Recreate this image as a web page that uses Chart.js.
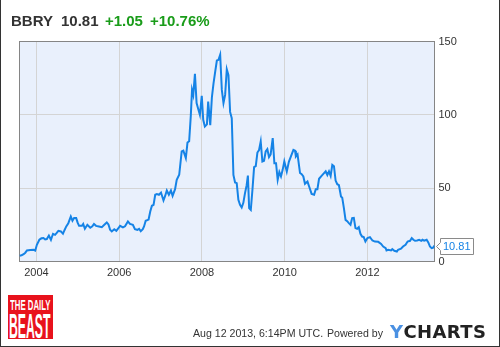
<!DOCTYPE html>
<html>
<head>
<meta charset="utf-8">
<script src="https://cdn.jsdelivr.net/npm/chart.js@4.4.0/dist/chart.umd.min.js"></script>
<style>
  html, body { margin: 0; padding: 0; background: #fff; }
  #wrap { position: relative; width: 500px; height: 347px; overflow: hidden; font-family: 'Liberation Sans', Arial, sans-serif; }
  #frame { position: absolute; left: 0; top: 0; width: 498px; height: 346px; border: 1px solid #333; border-top: none; pointer-events: none; }
  canvas { position: absolute; left: 0; top: 0; }
  .t { position: absolute; white-space: nowrap; line-height: 1; }
  .head { font-size: 15px; font-weight: bold; top: 13px; color: #333; }
  .up { color: #1a9c1a; }
  .foot { font-size: 10.6px; color: #333; top: 328px; }
  #logo { position: absolute; left: 8px; top: 295px; width: 45px; height: 44px; background: #e8121c; overflow: hidden; }
  #logo span { position: absolute; color: #fff; font-weight: bold; white-space: nowrap; line-height: 1; transform-origin: 0 0; }
  #yc { position: absolute; left: 390px; top: 323px; font-family: 'DejaVu Sans', sans-serif; font-weight: bold; font-size: 18px; letter-spacing: 0.4px; color: #222; line-height: 1; }
  #yc b { color: #4a90e2; }
</style>
</head>
<body>
<div id="wrap">
  <canvas id="myChart" width="500" height="347"></canvas>
  <span class="t head" style="left:11px">BBRY</span>
  <span class="t head" style="left:61px">10.81</span>
  <span class="t head up" style="left:105px">+1.05</span>
  <span class="t head up" style="left:150px">+10.76%</span>
  <div id="logo">
    <span style="left:2px; top:2px; font-size:15px; transform:scaleX(0.52)">THE DAILY</span>
    <span style="left:1px; top:13px; font-size:35px; transform:scaleX(0.35)">BEAST</span>
  </div>
  <span class="t foot" style="left:193px">Aug 12 2013, 6:14PM UTC.</span>
  <span class="t foot" style="left:327px">Powered by</span>
  <span id="yc"><b>Y</b>CHARTS</span>
  <div id="frame"></div>
</div>
<script>
var tickYears = [2004, 2006, 2008, 2010, 2012];
var yTicks = [0, 50, 100, 150];
var lastPrice = 10.81;

// decimal years
var dates = [2003.59, 2003.64, 2003.69, 2003.73, 2003.77, 2003.85, 2003.93, 2003.97, 2004.01, 2004.07,
  2004.12, 2004.17, 2004.21, 2004.25, 2004.30, 2004.35, 2004.40, 2004.45, 2004.49, 2004.53,
  2004.59, 2004.64, 2004.68, 2004.72, 2004.77, 2004.83, 2004.87, 2004.91, 2004.96, 2004.995,
  2005.03, 2005.10, 2005.13, 2005.17, 2005.23, 2005.30, 2005.35, 2005.39, 2005.44, 2005.51,
  2005.58, 2005.64, 2005.70, 2005.74, 2005.78, 2005.82, 2005.88, 2005.93, 2005.98, 2006.02,
  2006.09, 2006.14, 2006.21, 2006.26, 2006.33, 2006.38, 2006.44, 2006.48, 2006.52, 2006.57,
  2006.60, 2006.64, 2006.71, 2006.75, 2006.79, 2006.83, 2006.87, 2006.91, 2006.96, 2007.01,
  2007.07, 2007.11, 2007.15, 2007.20, 2007.25, 2007.29, 2007.35, 2007.39, 2007.45, 2007.51,
  2007.55, 2007.61, 2007.65, 2007.69, 2007.73, 2007.76, 2007.79, 2007.83, 2007.87, 2007.91,
  2007.95, 2007.995, 2008.03, 2008.07, 2008.12, 2008.15, 2008.20, 2008.24, 2008.28, 2008.32,
  2008.36, 2008.40, 2008.44, 2008.48, 2008.52, 2008.56, 2008.60, 2008.64, 2008.68, 2008.72,
  2008.76, 2008.80, 2008.84, 2008.88, 2008.92, 2008.96, 2009.00, 2009.04, 2009.08, 2009.11,
  2009.14, 2009.18, 2009.22, 2009.26, 2009.30, 2009.34, 2009.38, 2009.42, 2009.46, 2009.50,
  2009.54, 2009.58, 2009.62, 2009.66, 2009.71, 2009.75, 2009.79, 2009.83, 2009.87, 2009.91,
  2009.95, 2009.99, 2010.05, 2010.10, 2010.15, 2010.21, 2010.25, 2010.27, 2010.31, 2010.37,
  2010.41, 2010.45, 2010.49, 2010.55, 2010.59, 2010.65, 2010.71, 2010.75, 2010.79, 2010.83,
  2010.89, 2010.95, 2010.99, 2011.03, 2011.07, 2011.11, 2011.15, 2011.19, 2011.23, 2011.27,
  2011.31, 2011.36, 2011.39, 2011.43, 2011.47, 2011.51, 2011.55, 2011.59, 2011.63, 2011.67,
  2011.71, 2011.75, 2011.79, 2011.83, 2011.87, 2011.91, 2011.95, 2012.00, 2012.06, 2012.12,
  2012.18, 2012.26, 2012.33, 2012.38, 2012.44, 2012.46, 2012.50, 2012.57, 2012.60, 2012.65,
  2012.71, 2012.74, 2012.81, 2012.86, 2012.92, 2012.97, 2013.03, 2013.07, 2013.11, 2013.15,
  2013.20, 2013.25, 2013.30, 2013.33, 2013.37, 2013.43, 2013.47, 2013.51, 2013.55, 2013.59,
  2013.62];

var prices = [3.9, 4.3, 5.0, 6.0, 7.5, 7.9, 8.0, 7.5, 11.4, 14.8,
  15.8, 16.0, 15.0, 15.3, 17.7, 14.8, 18.9, 18.2, 19.5, 20.9,
  20.5, 18.9, 21.5, 23.9, 26.1, 30.7, 27.8, 29.6, 29.6, 26.5,
  24.3, 24.3, 25.6, 22.3, 25.0, 23.0, 24.0, 25.6, 24.3, 23.9,
  23.4, 25.0, 26.6, 25.3, 21.6, 20.5, 22.0, 20.9, 22.7, 24.3,
  23.2, 24.0, 27.3, 25.6, 25.0, 22.0, 21.6, 22.3, 20.7, 22.0,
  23.9, 27.8, 28.6, 34.1, 38.0, 38.6, 45.5, 46.0, 45.5, 47.0,
  41.6, 44.7, 48.4, 45.5, 48.4, 44.7, 49.3, 55.7, 59.1, 75.0,
  75.6, 70.5, 81.1, 82.0, 99.3, 117.0, 113.6, 128.0, 108.0, 104.0,
  100.0, 113.0, 96.6, 92.0, 93.5, 109.0, 93.0, 112.0, 121.6, 129.5,
  137.0, 137.5, 141.0, 117.0, 108.0, 113.6, 131.0, 127.0, 102.0, 97.7,
  59.0, 53.9, 53.4, 42.0, 38.6, 36.8, 40.0, 46.6, 52.0, 58.6,
  36.4, 35.2, 48.9, 64.3, 65.0, 74.3, 76.0, 81.8, 68.2, 68.7,
  75.0, 76.6, 71.2, 73.0, 84.1, 67.0, 67.0, 55.7, 61.0, 58.0,
  62.5, 68.2, 61.3, 68.0, 71.6, 76.1, 75.5, 71.6, 73.0, 60.3,
  59.5, 58.0, 53.0, 54.5, 51.1, 46.1, 45.5, 49.3, 49.3, 56.4,
  58.4, 60.3, 61.5, 59.0, 61.5, 58.4, 65.9, 65.0, 55.2, 52.7,
  52.0, 44.3, 43.5, 36.4, 28.4, 27.5, 26.2, 25.0, 29.6, 29.8,
  22.8, 22.3, 23.4, 18.9, 17.0, 16.6, 13.6, 16.0, 16.6, 14.3,
  13.6, 13.4, 12.0, 10.2, 9.1, 7.5, 8.0, 7.5, 8.4, 7.3,
  6.8, 8.0, 8.7, 10.2, 11.4, 13.6, 14.1, 16.0, 14.8, 14.1,
  14.3, 14.8, 14.1, 14.8, 14.2, 14.8, 13.0, 10.2, 9.1, 9.5,
  10.81];

Chart.defaults.font.family = "'Liberation Sans', Arial, sans-serif";

var plotFrame = {
  id: 'plotFrame',
  beforeDraw: function(chart) {
    var a = chart.chartArea, ctx = chart.ctx;
    ctx.save();
    ctx.fillStyle = '#e9f0fc';
    ctx.fillRect(a.left, a.top, a.right - a.left, a.bottom - a.top);
    ctx.restore();
  },
  beforeDatasetsDraw: function(chart) {
    var a = chart.chartArea, ctx = chart.ctx;
    ctx.save();
    ctx.strokeStyle = '#858585';
    ctx.lineWidth = 1;
    ctx.strokeRect(Math.floor(a.left) + 0.5, Math.floor(a.top) + 0.5,
      Math.round(a.right - a.left), Math.round(a.bottom - a.top));
    ctx.restore();
  },
  afterDraw: function(chart) {
    // price tag at the last value
    var ctx = chart.ctx;
    var x = Math.round(chart.chartArea.right);
    var y = Math.round(chart.scales.y.getPixelForValue(lastPrice));
    ctx.save();
    ctx.beginPath();
    ctx.moveTo(x + 5.5, y - 7.5);
    ctx.lineTo(x + 38.5, y - 7.5);
    ctx.lineTo(x + 38.5, y + 8.5);
    ctx.lineTo(x + 5.5, y + 8.5);
    ctx.lineTo(x + 5.5, y + 4.5);
    ctx.lineTo(x + 1.5, y + 0.5);
    ctx.lineTo(x + 5.5, y - 3.5);
    ctx.closePath();
    ctx.fillStyle = '#fff';
    ctx.fill();
    ctx.strokeStyle = '#8a8a8a';
    ctx.lineWidth = 1;
    ctx.stroke();
    ctx.fillStyle = '#1583e6';
    ctx.font = "11px 'Liberation Sans', Arial, sans-serif";
    ctx.textBaseline = 'middle';
    ctx.fillText(lastPrice.toFixed(2), x + 8, y + 1);
    ctx.restore();
  }
};

var chart = document.getElementById('myChart');
var myChart = new Chart(chart, {
  type: 'line',
  data: {
    datasets: [{
      data: dates.map(function(d, i) { return { x: d, y: prices[i] }; }),
      borderColor: '#1583e6',
      borderWidth: 2,
      pointRadius: 0,
      tension: 0,
      fill: false
    }]
  },
  options: {
    responsive: false,
    animation: false,
    layout: { padding: { left: 19.5, top: 41.5, right: 0, bottom: 65.5 } },
    plugins: { legend: { display: false }, tooltip: { enabled: false } },
    scales: {
      x: {
        type: 'linear',
        min: 2003.59,
        max: 2013.62,
        afterBuildTicks: function(s) { s.ticks = tickYears.map(function(v) { return { value: v }; }); },
        afterFit: function(s) { s.height = 20; },
        grid: { color: '#d4d4d4', drawTicks: false },
        border: { display: false },
        ticks: { padding: 5, color: '#333', font: { size: 11 }, maxRotation: 0, autoSkip: false,
          callback: function(v) { return String(v); } }
      },
      y: {
        position: 'right',
        min: 0,
        max: 150,
        afterBuildTicks: function(s) { s.ticks = yTicks.map(function(v) { return { value: v }; }); },
        afterFit: function(s) { s.width = 65.5; },
        grid: { color: '#d4d4d4', drawTicks: false },
        border: { display: false },
        ticks: { padding: 4, color: '#333', font: { size: 11 } }
      }
    }
  },
  plugins: [plotFrame]
});
</script>
</body>
</html>
